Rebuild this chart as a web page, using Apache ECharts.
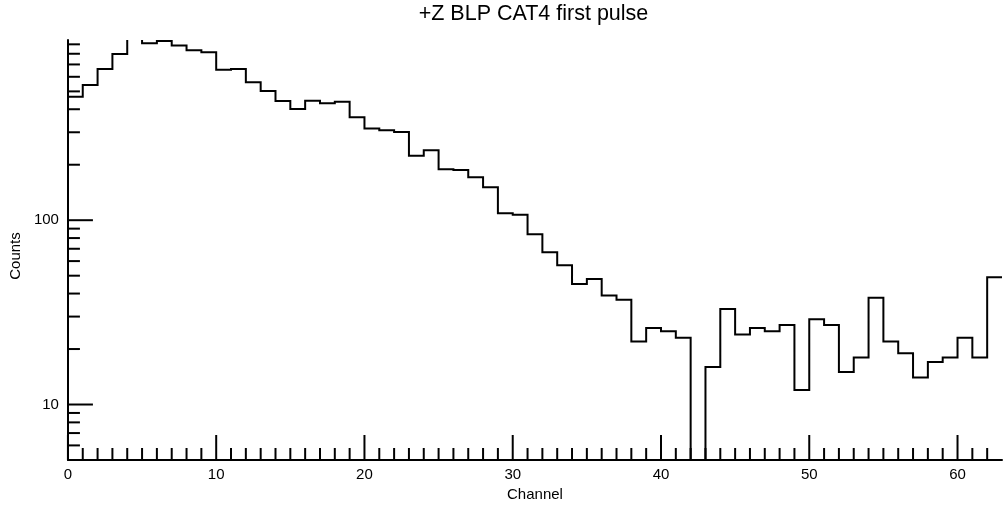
<!DOCTYPE html>
<html>
<head>
<meta charset="utf-8">
<title>+Z BLP CAT4 first pulse</title>
<script src="https://cdn.jsdelivr.net/npm/echarts@6/dist/echarts.min.js"></script>
<style>
  html, body { margin: 0; padding: 0; background: #ffffff; }
  #chart { width: 1006px; height: 508px; }
</style>
</head>
<body>
<div id="chart"></div>
<script>
// Counts per channel bin; bin i spans [i, i + 1)
const counts = [
  468, 541, 661, 797, 1002, 911, 938, 888, 837, 814,
  655, 661, 560, 502, 443, 401, 445, 431, 439, 362,
  314, 308, 301, 224, 240, 189, 187, 171, 151, 109,
  107, 84, 67, 57, 45, 48, 39, 37, 22, 26,
  25, 23, 0, 16, 33, 24, 26, 25, 27, 12,
  29, 27, 15, 18, 38, 22, 19, 14, 17, 18,
  23, 18, 49
];

// Axis ranges and tick positions
const xRange = [0, 63];
const yRange = [5, 950];
const xMajorTicks = [0, 10, 20, 30, 40, 50, 60];
const yMajorTicks = [10, 100];
const yMinorTicks = [6, 7, 8, 9, 20, 30, 40, 50, 60, 70, 80, 90, 200, 300, 400, 500, 600, 700, 800, 900];

const FONT = '"Liberation Sans", Arial, Helvetica, sans-serif';

// Histogram outline: horizontal top of every bin joined by vertical risers.
// Empty bins fall to the bottom of the frame.
const stepPoints = [];
counts.forEach((c, i) => {
  const v = Math.max(c, yRange[0]);
  stepPoints.push([i, v], [i + 1, v]);
});

// Tick marks: [x, y, kind]  kind 0 = x minor, 1 = x major, 2 = y minor, 3 = y major
const tickData = [];
for (let x = xRange[0] + 1; x < xRange[1]; x++) {
  if (!xMajorTicks.includes(x)) tickData.push([x, yRange[0], 0]);
}
xMajorTicks.forEach(x => tickData.push([x, yRange[0], 1]));
yMinorTicks.forEach(y => tickData.push([xRange[0], y, 2]));
yMajorTicks.forEach(y => tickData.push([xRange[0], y, 3]));

const TICK_SHORT = 12;
const TICK_LONG = 25;

const chart = echarts.init(document.getElementById('chart'), null, { renderer: 'canvas' });

chart.setOption({
  animation: false,
  backgroundColor: '#ffffff',
  title: {
    text: '+Z BLP CAT4 first pulse',
    left: 533.5,
    top: 3,
    padding: 0,
    textAlign: 'center',
    textStyle: { fontFamily: FONT, fontSize: 21.5, fontWeight: 'normal', color: '#000' }
  },
  grid: { left: 67, right: 4, top: 40, bottom: 48, containLabel: false },
  xAxis: {
    type: 'value',
    min: xRange[0],
    max: xRange[1],
    interval: 10,
    name: 'Channel',
    nameLocation: 'middle',
    nameGap: 24,
    nameTextStyle: { fontFamily: FONT, fontSize: 15, color: '#000' },
    axisLine: { show: true, onZero: false, lineStyle: { color: '#000', width: 2 } },
    axisTick: { show: false },
    splitLine: { show: false },
    axisLabel: {
      margin: 7,
      fontFamily: FONT,
      fontSize: 15,
      color: '#000',
      formatter: v => (xMajorTicks.includes(v) ? String(v) : '')
    }
  },
  yAxis: {
    type: 'log',
    logBase: 10,
    min: yRange[0],
    max: yRange[1],
    name: 'Counts',
    nameLocation: 'middle',
    nameGap: 41,
    nameTextStyle: { fontFamily: FONT, fontSize: 15, color: '#000', padding: [0, 12, 0, 0] },
    axisLine: { show: true, lineStyle: { color: '#000', width: 2 } },
    axisTick: { show: false },
    splitLine: { show: false },
    axisLabel: {
      margin: 9,
      fontFamily: FONT,
      fontSize: 15,
      color: '#000',
      formatter: v => (yMajorTicks.some(t => Math.abs(t - v) < 1e-6 * t) ? String(Math.round(v)) : '')
    }
  },
  series: [
    {
      // histogram outline, drawn once as a single polyline through the axes' scales
      type: 'custom',
      data: [[xRange[0], yRange[0]]],
      encode: { x: 0, y: 1 },
      clip: true,
      silent: true,
      z: 3,
      renderItem: (params, api) => {
        const pts = stepPoints.map(p => api.coord(p));
        return {
          type: 'polyline',
          shape: { points: pts },
          style: { stroke: '#000', lineWidth: 2, fill: null, lineJoin: 'miter' }
        };
      }
    },
    {
      type: 'custom',
      data: tickData,
      encode: { x: 0, y: 1 },
      clip: false,
      silent: true,
      z: 4,
      renderItem: (params, api) => {
        const kind = api.value(2);
        const p = api.coord([api.value(0), api.value(1)]);
        const len = (kind === 1 || kind === 3) ? TICK_LONG : TICK_SHORT;
        const shape = kind < 2
          ? { x1: p[0], y1: p[1], x2: p[0], y2: p[1] - len }
          : { x1: p[0], y1: p[1], x2: p[0] + len, y2: p[1] };
        return {
          type: 'line',
          shape: shape,
          style: { stroke: '#000', lineWidth: 2 }
        };
      }
    }
  ]
});
</script>
</body>
</html>
